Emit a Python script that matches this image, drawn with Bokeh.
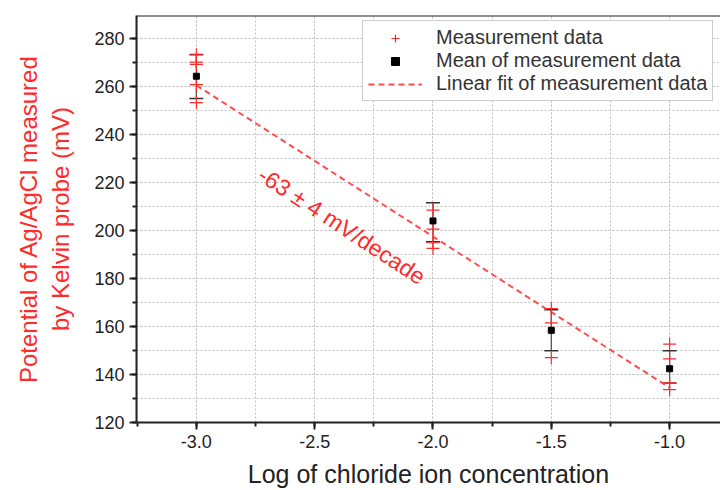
from bokeh.plotting import figure
from bokeh.models import (ColumnDataSource, Whisker, TeeHead, Legend, LegendItem,
                          Label, Span, SingleIntervalTicker, NumeralTickFormatter)
from bokeh.embed import file_html
from bokeh.resources import INLINE

# ---- data ----
meas_x = [-3.0, -3.0, -3.0, -3.0, -3.0,
          -2.0, -2.0, -2.0, -2.0,
          -1.5, -1.5, -1.5,
          -1.0, -1.0, -1.0, -1.0]
meas_y = [273.2, 270.2, 269.2, 260.8, 253.3,
          208.5, 200.6, 194.9, 192.6,
          167.5, 161.5, 147.0,
          152.7, 146.5, 136.5, 133.7]

mean_x = [-3.0, -2.0, -1.5, -1.0]
mean_y = [264.3, 204.0, 158.4, 142.4]
err_lo = [255.0, 195.3, 149.9, 136.5]
err_hi = [273.3, 211.6, 167.0, 149.9]

fit_x = [-3.0, -1.0]
fit_y = [260.5, 134.5]

slope_text = "-63 ± 4 mV/decade"
slope_pos = (-2.385, 202.0)

FONT = "Liberation Sans"
RED = "#ff2a2a"

p = figure(width=720, height=490, output_backend="svg", toolbar_location=None,
           x_range=(-3.253, -0.785), y_range=(120, 289.6),
           min_border_left=136, min_border_right=0, min_border_top=15,
           min_border_bottom=66)
p.outline_line_color = None
p.background_fill_color = "white"
p.border_fill_color = "white"

# grids: dotted at every major & minor tick
for g in (p.xgrid, p.ygrid):
    g.grid_line_color = "#c4c4c4"
    g.grid_line_dash = "2 2"
    g.grid_line_width = 1
    g.minor_grid_line_color = "#c4c4c4"
    g.minor_grid_line_dash = "2 2"
    g.minor_grid_line_width = 1

p.xaxis.ticker = SingleIntervalTicker(interval=0.5, num_minor_ticks=2)
p.yaxis.ticker = SingleIntervalTicker(interval=20, num_minor_ticks=2)
p.xaxis.formatter = NumeralTickFormatter(format="0.0")

for ax in (p.xaxis, p.yaxis):
    ax.axis_line_width = 2
    ax.axis_line_color = "#222222"
    ax.major_tick_line_width = 2
    ax.major_tick_line_color = "#222222"
    ax.minor_tick_line_width = 2
    ax.minor_tick_line_color = "#222222"
    ax.major_tick_out = 7
    ax.major_tick_in = 0
    ax.minor_tick_out = 4
    ax.minor_tick_in = 0
    ax.major_label_text_font = FONT
    ax.major_label_text_font_size = "18px"
    ax.major_label_text_color = "#222222"
    ax.major_label_standoff = 5
    ax.axis_label_text_font = FONT
    ax.axis_label_text_font_style = "normal"

p.xaxis.axis_label = "Log of chloride ion concentration"
p.xaxis.axis_label_text_font_size = "25px"
p.xaxis.axis_label_text_color = "#222222"
p.xaxis.axis_label_standoff = 9

p.yaxis.axis_label = "Potential of Ag/AgCl measured\nby Kelvin probe (mV)"
p.yaxis.axis_label_text_font_size = "24px"
p.yaxis.axis_label_text_color = RED
p.yaxis.axis_label_standoff = 17
p.yaxis.axis_label_text_line_height = 1.2

# top frame line
p.add_layout(Span(location=289.6, dimension="width", line_color="#222222", line_width=2))

# error bars
ebs = ColumnDataSource(dict(x=mean_x, lo=err_lo, hi=err_hi))
wh = Whisker(source=ebs, base="x", lower="lo", upper="hi",
             line_color="#555555", line_width=1.3,
             upper_head=TeeHead(size=14, line_color="#333333", line_width=1.5),
             lower_head=TeeHead(size=14, line_color="#333333", line_width=1.5))
p.add_layout(wh)

fit_r = p.line(fit_x, fit_y, line_color="#ff4d4d", line_width=2, line_dash="6 4")
meas_r = p.scatter(meas_x, meas_y, marker="cross", size=13, line_color=RED, line_width=1.2)
mean_r = p.scatter(mean_x, mean_y, marker="square", size=6, fill_color="black", line_color="black")

p.add_layout(Label(x=slope_pos[0], y=slope_pos[1], text=slope_text, angle=-0.58,
                   text_align="center", text_baseline="middle", text_color=RED,
                   text_font=FONT, text_font_size="23px"))

legend = Legend(items=[
    LegendItem(label="Measurement data", renderers=[meas_r]),
    LegendItem(label="Mean of measurement data", renderers=[mean_r]),
    LegendItem(label="Linear fit of measurement data", renderers=[fit_r]),
], location=(226, 321))
legend.label_text_font = FONT
legend.label_text_font_size = "20px"
legend.label_text_color = "#333333"
legend.border_line_color = "#999999"
legend.border_line_width = 1
legend.background_fill_alpha = 1.0
legend.glyph_width = 54
legend.glyph_height = 20
legend.label_height = 20
legend.label_standoff = 14
legend.spacing = 0
legend.padding = 5
legend.margin = 0
p.add_layout(legend)

open("out.html", "w").write(file_html(p, INLINE))
